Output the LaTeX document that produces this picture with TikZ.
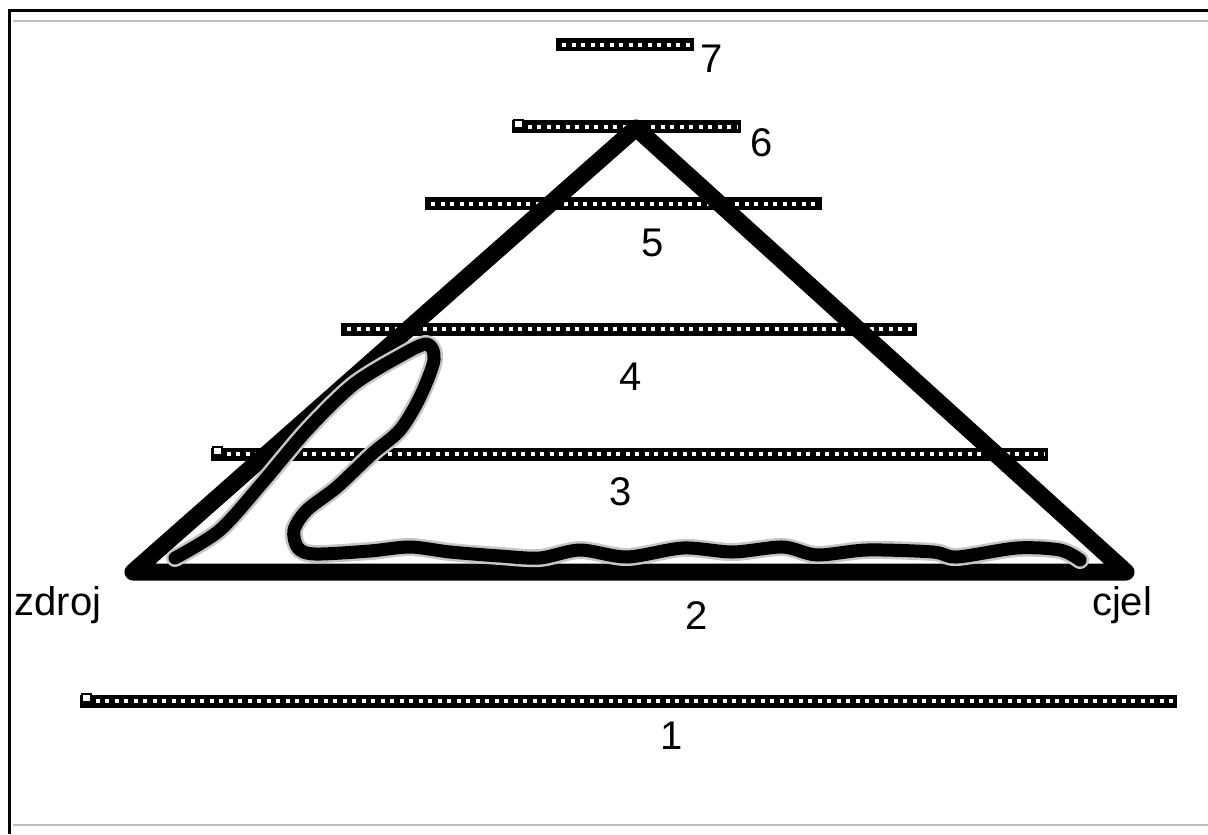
\documentclass[tikz,border=0pt]{standalone}
\usepackage{fontspec}
\setmainfont{Liberation Sans}

\begin{document}
\begin{tikzpicture}[x=0.5pt,y=-0.5pt,
  pruh/.style={line width=6.5pt},
  tecky/.style={white, line width=2.4pt, dash pattern=on 2.2pt off 2.55pt},
  hrana/.style={line width=8.5pt, line cap=round, line join=round},
  cara/.style={line width=6.5pt, line cap=round, line join=round},
  popis/.style={font=\fontsize{20}{24}\selectfont, inner sep=0pt}]
  \useasboundingbox (0,0) rectangle (1208,834);

  % ramecek
  \draw[line width=1.5pt] (9.5,834) -- (9.5,10.5) -- (1208,10.5);
  \draw[gray!50, line width=0.8pt] (13,21) -- (1208,21);
  \draw[gray!50, line width=0.8pt] (13,825) -- (1208,825);

  % pruhy 1..7
  \foreach \xa/\xb/\y in {80/1177/701, 211/1048/454, 341/917/329,
                          425/822/204, 512/741/127, 556/694/45} {
    \draw[pruh] (\xa,\y) -- (\xb,\y);
    \draw[tecky] (\xa+6,\y) -- (\xb-3,\y);
  }
  % male ctverecky na zacatku
  \foreach \xa/\y in {80/699, 211/452, 512/125}
    \draw[black, fill=white, line width=1.4pt] (\xa+2,\y-5) rectangle (\xa+11,\y+3);

  % vrcholy trojuhelniku
  \coordinate (zdroj) at (133,572);
  \coordinate (vrchol) at (636,128);
  \coordinate (cjel) at (1126,572);

  % trojuhelnik
  \draw[hrana] (zdroj) -- (vrchol) -- (cjel) -- cycle;

  % cesta
  \foreach \barva/\sirka in {gray!45/9pt, black/6.5pt}
    \draw[cara, \barva, line width=\sirka] plot[smooth, tension=0.5] coordinates {
      (175,558) (220,530) (263,482) (307,430) (353,385) (400,356) (427,344)
      (434,360) (420,397) (400,430) (373,453) (337,487) (307,510) (294,530)
      (298,548) (315,554) (370,551) (410,547) (450,552) (500,556) (540,558)
      (580,550) (627,557) (683,548) (733,552) (783,547) (817,555) (867,550)
      (933,552) (957,557) (1017,548) (1060,550) (1080,560)};

  % popisky
  \node[popis] (lzdroj) at (58,605) {zdroj};
  \node[popis] (lcjel) at (1122,605) {cjel};
  \node[popis] (l1) at (672,736) {1};
  \node[popis] (l2) at (697,616) {2};
  \node[popis] (l3) at (621,492) {3};
  \node[popis] (l4) at (631,377) {4};
  \node[popis] (l5) at (653,243) {5};
  \node[popis] (l6) at (762,143) {6};
  \node[popis] (l7) at (712,59) {7};
\end{tikzpicture}
\end{document}
